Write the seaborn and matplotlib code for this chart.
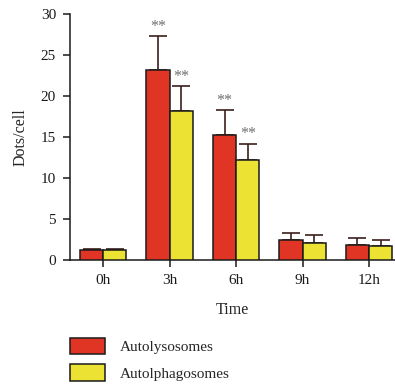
import pandas as pd
import matplotlib
matplotlib.use("Agg")
import matplotlib.pyplot as plt
import seaborn as sns

# Values
times = ["0h", "3h", "6h", "9h", "12h"]
series = ["Autolysosomes", "Autolphagosomes"]
autolysosomes = [1.2, 23.2, 15.2, 2.45, 1.85]
autolysosomes_err = [0.2, 4.1, 3.05, 0.9, 0.85]
autophagosomes = [1.2, 18.15, 12.2, 2.1, 1.65]
autophagosomes_err = [0.2, 3.05, 2.0, 1.0, 0.8]
signif_lys = ["", "**", "**", "", ""]
signif_pha = ["", "**", "**", "", ""]

colors = ["#e03424", "#ebe234"]


def main():
    sns.set_style("ticks")
    plt.rcParams["font.family"] = ["Liberation Serif", "DejaVu Serif"]

    df = pd.DataFrame({
        "Time": times * 2,
        "Dots/cell": autolysosomes + autophagosomes,
        "Series": [series[0]] * len(times) + [series[1]] * len(times),
    })
    errs = [autolysosomes_err, autophagosomes_err]
    stars = [signif_lys, signif_pha]

    fig = plt.figure(figsize=(3.95, 3.85), dpi=100)
    ax = fig.add_axes([70 / 395, 125 / 385, 325 / 395, 246 / 385])

    sns.barplot(data=df, x="Time", y="Dots/cell", hue="Series", order=times,
                hue_order=series, palette=colors, saturation=1, width=0.7,
                gap=0, edgecolor="#1a1a1a", linewidth=1.1, errorbar=None,
                legend=True, ax=ax, zorder=3)

    # one-sided error bars and significance marks
    for cont, err, star in zip(ax.containers, errs, stars):
        xs = [p.get_x() + p.get_width() / 2 for p in cont.patches]
        ys = [p.get_height() for p in cont.patches]
        ax.errorbar(xs, ys, yerr=[[0] * len(err), err], fmt="none",
                    ecolor="#3b1f1c", elinewidth=1.2, capsize=6.5,
                    capthick=1.2, zorder=2)
        for x, y, e, s in zip(xs, ys, err, star):
            if s:
                ax.text(x, y + e + 0.15, s, ha="center", va="bottom",
                        fontsize=11.5, color="#707070")

    ax.set_ylim(0, 30)
    ax.set_xlim(-0.5, 4.39)
    ax.set_yticks([0, 5, 10, 15, 20, 25, 30])
    ax.set_xlabel("Time", fontsize=11.5, labelpad=11)
    ax.set_ylabel("Dots/cell", fontsize=11.5, labelpad=9)
    ax.tick_params(axis="both", labelsize=11, length=5, width=1.1,
                   color="#1a1a1a", labelcolor="#1a1a1a", pad=5)
    for side in ["left", "bottom"]:
        ax.spines[side].set_linewidth(1.1)
        ax.spines[side].set_color("#1a1a1a")
    sns.despine(ax=ax)

    handles, labels = ax.get_legend_handles_labels()
    ax.get_legend().remove()
    fig.legend(handles, labels, loc="upper left",
               bbox_to_anchor=(56 / 395, 1 - 324 / 385), frameon=False,
               fontsize=11, handlelength=2.3, handleheight=1.3,
               labelspacing=0.65, handletextpad=1.0)

    fig.savefig("out.png", dpi=100)


if __name__ == "__main__":
    main()
